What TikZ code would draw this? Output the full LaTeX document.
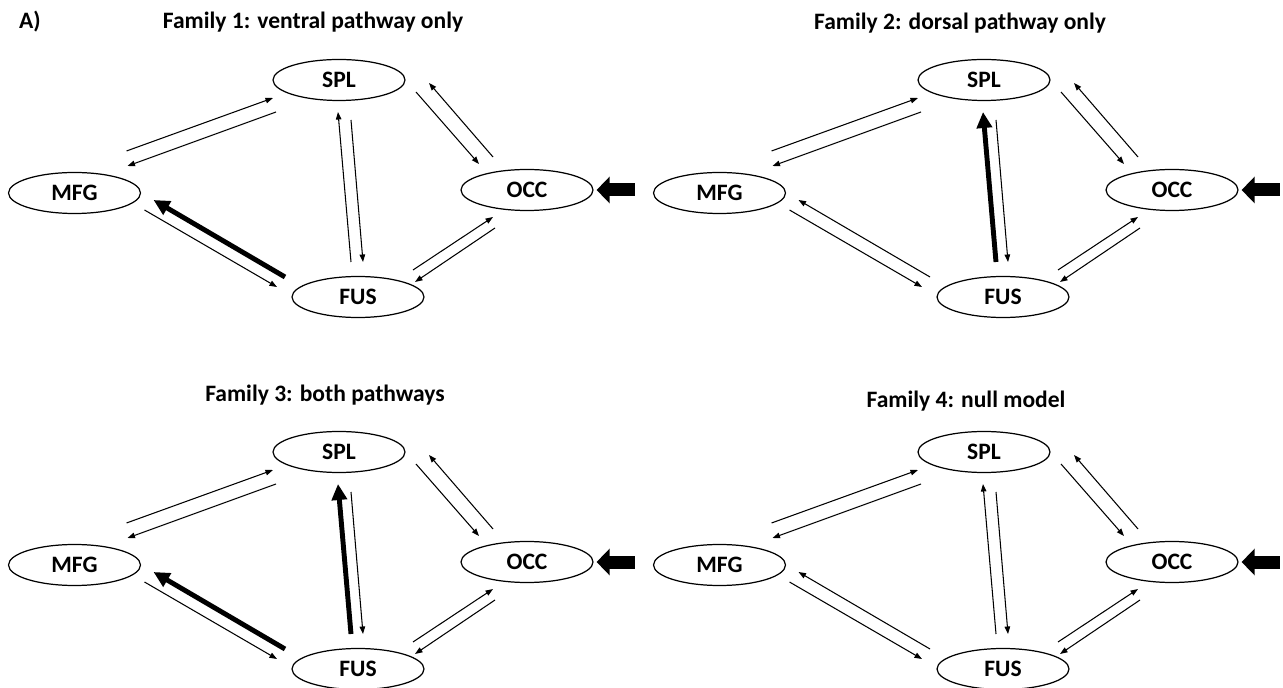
\documentclass[tikz,border=0pt]{standalone}
\usepackage{fontspec}
\setmainfont{Carlito}
\usetikzlibrary{arrows.meta,shapes.geometric}

\tikzset{
  region/.style={draw, ellipse, line width=0.7pt, minimum width=2.64cm, minimum height=0.82cm, inner sep=0pt, font=\fontsize{13.4}{16}\selectfont\bfseries},
  heading/.style={font=\fontsize{13.4}{16}\selectfont\bfseries, inner sep=0pt},
  link/.style={line width=0.6pt, -{Triangle[length=0.15cm,width=0.11cm]}},
  strong/.style={line width=2.8pt, -{Triangle[length=0.32cm,width=0.3cm]}},
  input/.style={line width=0.26cm, -{Triangle[length=0.26cm,width=0.52cm]}}
}

\begin{document}
\begin{tikzpicture}[x=0.02cm, y=-0.02cm]
  \useasboundingbox (0,0) rectangle (1283,688);

  \node[heading] (tag) at (30,22) {A)};

  \foreach \i/\dx/\dy/\tx/\ty/\ven/\dor/\title in {
      1/0/0/313/22/1/0/{Family 1: ventral pathway only},
      2/645/0/315/23/0/1/{Family 2: dorsal pathway only},
      3/0/372/325/23/1/1/{Family 3: both pathways},
      4/645/372/321/29/0/0/{Family 4: null model}}
  {
    \begin{scope}[shift={(\dx,\dy)}]
      \node[heading] (title\i) at (\tx,\ty) {\title};

      \node[region] (spl\i) at (339,80) {SPL};
      \node[region] (mfg\i) at (74.5,193) {MFG};
      \node[region] (occ\i) at (527,190) {OCC};
      \node[region] (fus\i) at (358,297) {FUS};

      % modulated connections drawn thick
      \ifnum\ven=1 \tikzset{ventral/.style={strong}}\else\tikzset{ventral/.style={link}}\fi
      \ifnum\dor=1 \tikzset{dorsal/.style={strong}}\else\tikzset{dorsal/.style={link}}\fi

      \draw[link] ([shift={(52,-42)}]mfg\i.center) -- ([shift={(-66,18)}]spl\i.center);
      \draw[link] ([shift={(-63,32)}]spl\i.center) -- ([shift={(53,-27)}]mfg\i.center);
      \draw[link] ([shift={(70,17)}]mfg\i.center) -- ([shift={(-81,-10)}]fus\i.center);
      \draw[ventral] ([shift={(-73,-20)}]fus\i.center) -- ([shift={(79,7)}]mfg\i.center);
      \draw[link] ([shift={(77,12)}]spl\i.center) -- ([shift={(-48,-26)}]occ\i.center);
      \draw[link] ([shift={(-34,-33)}]occ\i.center) -- ([shift={(90,3)}]spl\i.center);
      \draw[dorsal] ([shift={(-7,-35)}]fus\i.center) -- ([shift={(-1,32)}]spl\i.center);
      \draw[link] ([shift={(12,40)}]spl\i.center) -- ([shift={(5,-35)}]fus\i.center);
      \draw[link] ([shift={(55,-27)}]fus\i.center) -- ([shift={(-34,27)}]occ\i.center);
      \draw[link] ([shift={(-32,38)}]occ\i.center) -- ([shift={(57,-15)}]fus\i.center);

      % driving input
      \coordinate (src\i) at ([shift={(41,0)}]occ\i.east);
      \draw[input, shorten >=0.06cm] (src\i) -- (occ\i);
    \end{scope}
  }
\end{tikzpicture}
\end{document}
